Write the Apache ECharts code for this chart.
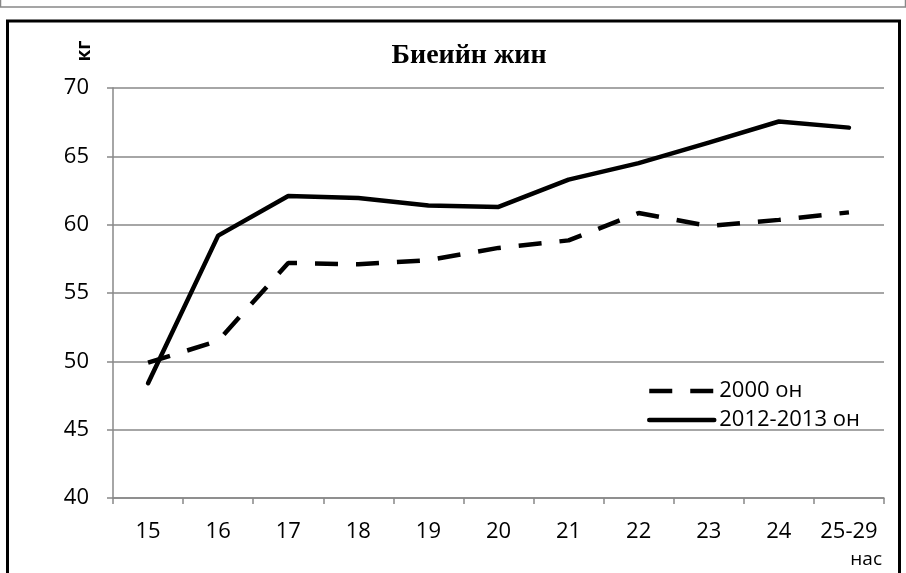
<!DOCTYPE html>
<html><head><meta charset="utf-8">
<script src="https://cdn.jsdelivr.net/npm/echarts@6/dist/echarts.min.js"></script>
<style>html,body{margin:0;padding:0;background:#fff}#c{width:906px;height:573px}</style>
</head><body><div id="c"></div>
<script>
var categories = ['15','16','17','18','19','20','21','22','23','24','25-29'];
var series2000 = [49.9, 51.5, 57.2, 57.1, 57.4, 58.3, 58.85, 60.85, 59.9, 60.35, 60.9];
var series2012 = [48.4, 59.2, 62.1, 61.95, 61.4, 61.3, 63.3, 64.5, 66.0, 67.55, 67.1];
var yTicks = [40, 45, 50, 55, 60, 65, 70];

var chart = echarts.init(document.getElementById('c'));
chart.setOption({
  animation: false,
  backgroundColor: '#fff',
  textStyle: {fontFamily: 'Open Sans'},
  title: {
    text: 'Биеийн жин', left: 464, top: 37, textAlign: 'center',
    textStyle: {fontFamily: 'Liberation Serif', fontWeight: 'bold', fontSize: 28, color: '#000'}
  },
  graphic: [
    {type: 'rect', shape: {x: 0.5, y: -10, width: 905, height: 17}, style: {fill: 'none', stroke: '#888', lineWidth: 1.5}},
    {type: 'rect', shape: {x: 7.5, y: 21, width: 892, height: 600}, style: {fill: 'none', stroke: '#000', lineWidth: 3}},
    {type: 'text', x: 85, y: 51, rotation: Math.PI / 2,
     style: {text: 'кг', fontFamily: 'Open Sans', fontWeight: 'bold', fontSize: 19, fill: '#000', align: 'center', verticalAlign: 'middle'}}
  ],
  legend: {
    orient: 'vertical', left: 642, top: 375, itemWidth: 65, itemHeight: 23, itemGap: 7,
    itemStyle: {opacity: 0},
    lineStyle: {width: 4.5},
    textStyle: {fontSize: 22, color: '#000', padding: [0, 0, 0, 0], fontFamily: 'Open Sans'},
    data: ['2000 он', '2012-2013 он']
  },
  grid: {left: 113, right: 22, top: 88, bottom: 75},
  xAxis: {
    type: 'category', data: categories, boundaryGap: true,
    name: 'нас', nameLocation: 'end',
    nameTextStyle: {fontSize: 19, color: '#000', align: 'right', verticalAlign: 'top', padding: [52, 0, 0, 0]},
    nameGap: -2,
    axisLine: {lineStyle: {color: '#888', width: 1.5}},
    axisTick: {show: true, interval: 0, length: 6, alignWithLabel: false, lineStyle: {color: '#888', width: 1.5}},
    axisLabel: {interval: 0, fontSize: 22, color: '#000', margin: 23}
  },
  yAxis: {
    type: 'value', min: 40, max: 70, interval: 5,
    axisLine: {show: true, lineStyle: {color: '#888', width: 1.5}},
    axisTick: {show: true, length: 6, inside: false, lineStyle: {color: '#888', width: 1.5}},
    axisLabel: {fontSize: 22, color: '#000', margin: 24,
      formatter: function (v) { return yTicks.indexOf(v) >= 0 ? String(v) : ''; }},
    splitLine: {lineStyle: {color: '#888', width: 1.5}}
  },
  series: [
    {name: '2000 он', type: 'line', data: series2000, symbol: 'none', color: '#000',
     lineStyle: {color: '#000', width: 4.5, type: [23, 18], cap: 'butt'}},
    {name: '2012-2013 он', type: 'line', data: series2012, symbol: 'none', color: '#000',
     lineStyle: {color: '#000', width: 4.5, cap: 'round', join: 'round'}}
  ]
});
</script></body></html>
